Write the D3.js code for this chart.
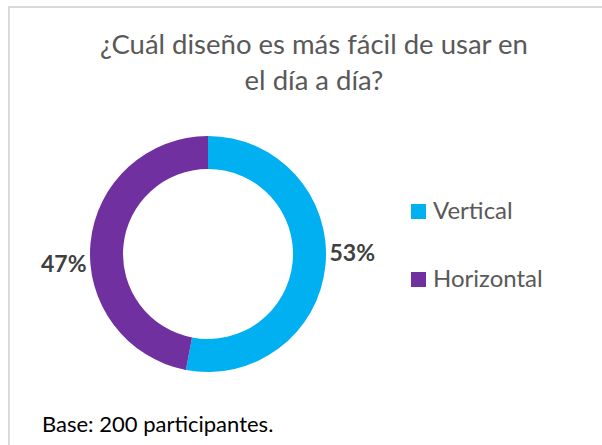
<!DOCTYPE html>
<html>
<head>
<meta charset="utf-8">
<script src="https://cdn.jsdelivr.net/npm/d3@7"></script>
<style>
  body { margin: 0; background: #fff; }
  svg { display: block; font-family: Lato, "Open Sans", sans-serif; }
</style>
</head>
<body>
<svg id="chart" width="602" height="445"></svg>
<script>
// data
const categories = ['Vertical', 'Horizontal'];
const shares = [53, 47];
const titleLines = ['¿Cuál diseño es más fácil de usar en', 'el día a día?'];
const footnote = 'Base: 200 participantes.';

const colors = ['#00B0F0', '#7030A0'];
// small manual nudges for the outside labels (like the original chart)
const labelDy = [-13, 21];

const svg = d3.select('#chart');

// frame (top + left edges visible)
svg.append('path')
    .attr('d', 'M9,602 L9,7 L602,7')
    .attr('fill', 'none')
    .attr('stroke', '#D9D9D9')
    .attr('stroke-width', 2);

// title
svg.append('g')
    .selectAll('text')
    .data(titleLines)
    .enter()
    .append('text')
    .attr('x', 314)
    .attr('y', (d, i) => 54 + i * 36)
    .attr('text-anchor', 'middle')
    .attr('fill', '#595959')
    .style('font-size', '27.5px')
    .text(d => d);

// donut
const cx = 208, cy = 254, outerR = 118, innerR = 85;

const pieData = d3.pie().value(d => d).sort(null)(shares);

const arcGenerator = d3.arc()
    .innerRadius(innerR)
    .outerRadius(outerR);

const g = svg.append('g')
    .attr('transform', `translate(${cx},${cy})`);

g.selectAll('path')
    .data(pieData)
    .enter()
    .append('path')
    .attr('fill', d => colors[d.index])
    .attr('d', arcGenerator);

// outside-end labels
const labelArc = d3.arc().innerRadius(outerR + 4).outerRadius(outerR + 4);

g.selectAll('text.pct')
    .data(pieData)
    .enter()
    .append('text')
    .attr('class', 'pct')
    .attr('x', d => labelArc.centroid(d)[0])
    .attr('y', (d, i) => labelArc.centroid(d)[1] + labelDy[i])
    .attr('text-anchor', d => (d.startAngle + d.endAngle) / 2 < Math.PI ? 'start' : 'end')
    .attr('dy', '0.35em')
    .attr('fill', '#404040')
    .style('font-size', '23px')
    .style('font-weight', 'bold')
    .text(d => d.data + '%');

// legend
const legend = svg.append('g')
    .selectAll('g')
    .data(categories)
    .enter()
    .append('g')
    .attr('transform', (d, i) => `translate(411,${204 + i * 68})`);

legend.append('rect')
    .attr('width', 15)
    .attr('height', 15)
    .attr('fill', (d, i) => colors[i]);

legend.append('text')
    .attr('x', 22)
    .attr('y', 15)
    .attr('fill', '#595959')
    .style('font-size', '24px')
    .text(d => d);

// footnote
svg.append('text')
    .attr('x', 42)
    .attr('y', 432)
    .attr('fill', '#000')
    .style('font-size', '22px')
    .text(footnote);
</script>
</body>
</html>
